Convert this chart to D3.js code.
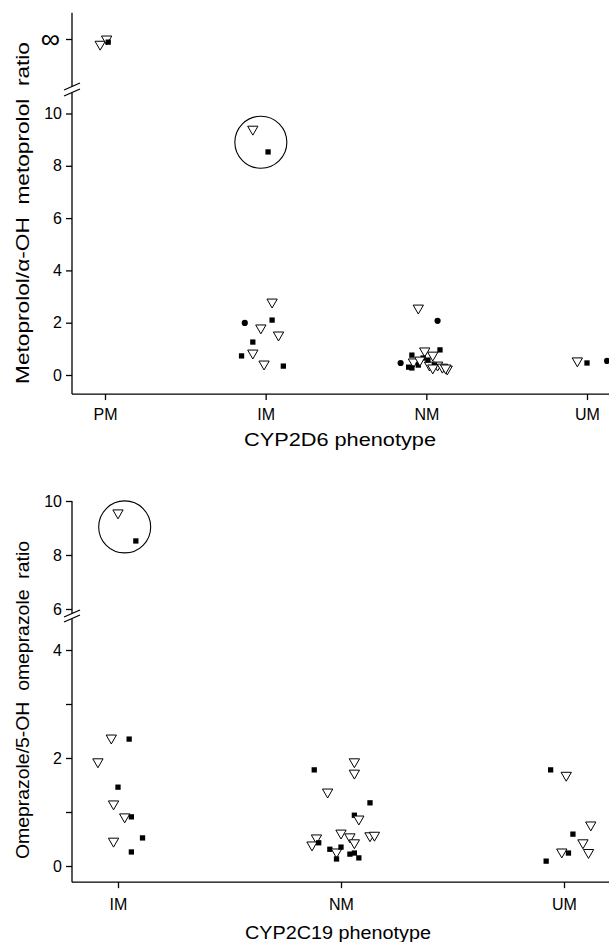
<!DOCTYPE html>
<html>
<head>
<meta charset="utf-8">
<script src="https://cdn.jsdelivr.net/npm/d3@7"></script>
<style>
  body { margin: 0; background: #fff; }
  text { font-family: "Liberation Sans", Arial, sans-serif; fill: #000; }
</style>
</head>
<body>
<svg id="chart" width="609" height="942"></svg>
<script>
// categories
const cyp2d6Phenotypes = ["PM", "IM", "NM", "UM"];
const cyp2c19Phenotypes = ["IM", "NM", "UM"];

// [shift from category, ratio, marker]  (tri = open triangle, sq = square, dot = circle)
// PM ratios are infinite; second value is a small offset below the ∞ tick
const metoPM = [[-0.03, -0.2, "tri"], [0.01, 0, "tri"], [0.02, -0.12, "sq"]];
const metoIM = [
  [-0.08, 9.4, "tri"], [0.015, 8.53, "sq"],
  [0.04, 2.79, "tri"], [-0.13, 1.99, "dot"], [0.04, 2.1, "sq"], [-0.03, 1.8, "tri"],
  [0.08, 1.53, "tri"], [-0.08, 1.26, "sq"], [-0.15, 0.73, "sq"], [-0.08, 0.84, "tri"],
  [-0.01, 0.42, "tri"], [0.11, 0.34, "sq"]
];
const metoNM = [
  [-0.05, 2.56, "tri"], [0.07, 2.07, "dot"], [-0.16, 0.46, "dot"], [-0.01, 0.92, "tri"],
  [0.085, 0.96, "sq"], [-0.09, 0.76, "sq"], [0.04, 0.76, "tri"], [-0.02, 0.65, "sq"],
  [-0.08, 0.5, "tri"], [-0.05, 0.38, "sq"], [0.02, 0.38, "tri"], [-0.11, 0.3, "sq"],
  [0.07, 0.38, "tri"], [0.13, 0.23, "tri"], [0.05, 0.38, "sq"], [0.01, 0.57, "sq"],
  [-0.04, 0.57, "tri"], [0.1, 0.3, "tri"], [0.04, 0.27, "tri"], [-0.09, 0.27, "sq"],
  [0.12, 0.27, "tri"]
];
const metoUM = [[-0.06, 0.54, "tri"], [0, 0.46, "sq"], [0.125, 0.54, "dot"]];

const omeIM = [
  [0, 9.56, "tri"], [0.08, 8.52, "sq"],
  [-0.03, 2.37, "tri"], [0.05, 2.35, "sq"], [-0.09, 1.93, "tri"], [0, 1.46, "sq"],
  [-0.02, 1.15, "tri"], [0.03, 0.91, "tri"], [0.06, 0.91, "sq"], [0.11, 0.52, "sq"],
  [-0.02, 0.46, "tri"], [0.06, 0.26, "sq"]
];
const omeNM = [
  [-0.12, 1.78, "sq"], [0.06, 1.93, "tri"], [0.06, 1.72, "tri"], [-0.06, 1.37, "tri"],
  [0.13, 1.17, "sq"], [0.06, 0.94, "sq"], [0.08, 0.87, "tri"], [0, 0.61, "tri"],
  [0.04, 0.54, "tri"], [0.06, 0.43, "tri"], [0.13, 0.56, "tri"], [0.15, 0.57, "tri"],
  [-0.11, 0.52, "tri"], [-0.13, 0.39, "tri"], [-0.1, 0.43, "sq"], [-0.05, 0.31, "sq"],
  [-0.02, 0.26, "tri"], [0, 0.35, "sq"], [-0.02, 0.13, "sq"], [0.04, 0.22, "sq"],
  [0.06, 0.24, "sq"], [0.08, 0.15, "sq"]
];
const omeUM = [
  [-0.06, 1.78, "sq"], [0.01, 1.68, "tri"], [0.12, 0.76, "tri"], [0.04, 0.59, "sq"],
  [0.085, 0.43, "tri"], [-0.01, 0.26, "tri"], [0.02, 0.24, "sq"], [0.11, 0.25, "tri"],
  [-0.08, 0.09, "sq"]
];

// circled outliers: [category shift, ratio]
const metoOutlier = [0.97, 8.9];
const omeOutlier = [0.03, 9.04];

const svg = d3.select("#chart");

const symbols = {
  tri: d3.symbol().type(d3.symbolTriangle).size(46)(),
  sq: d3.symbol().type(d3.symbolSquare).size(28)(),
  dot: d3.symbol().type(d3.symbolCircle).size(30)()
};

function rows(list, cat) {
  return list.map(d => ({ x: cat + d[0], v: d[1], mark: d[2] }));
}

function drawPoints(data, x, y) {
  svg.append("g").selectAll("path")
    .data(data)
    .join("path")
    .attr("d", d => symbols[d.mark])
    .attr("transform", d => "translate(" + x(d.x) + "," + y(d.v) + ")" + (d.mark == "tri" ? " rotate(180)" : ""))
    .attr("fill", d => d.mark == "tri" ? "#fff" : "#000")
    .attr("stroke", d => d.mark == "tri" ? "#000" : "none")
    .attr("stroke-width", 1);
}

function line(x1, y1, x2, y2) {
  svg.append("line")
    .attr("x1", x1).attr("y1", y1).attr("x2", x2).attr("y2", y2)
    .attr("stroke", "#000").attr("stroke-width", 1.3);
}

function styleAxis(g, size) {
  g.select(".domain").remove();
  g.selectAll(".tick line").attr("stroke", "#000").attr("stroke-width", 1.3);
  g.selectAll(".tick text").attr("font-size", size).attr("fill", "#000")
    .style("font-family", '"Liberation Sans", Arial, sans-serif');
}

function title(x, y, rot, len, txt) {
  svg.append("text")
    .attr("transform", "translate(" + x + "," + y + ")" + (rot ? " rotate(-90)" : ""))
    .attr("text-anchor", "middle")
    .attr("font-size", 18)
    .attr("textLength", len)
    .attr("lengthAdjust", "spacingAndGlyphs")
    .style("white-space", "pre")
    .text(txt);
}

const axisX = 72;
const fmt = d3.format("d");

// ---------- top panel: CYP2D6 / metoprolol ----------
let xTop = d3.scaleLinear().domain([0, 3]).range([105, 587]);
let yTop = d3.scaleLinear().domain([0, 10]).range([375, 113.5]);
let yInf = d3.scaleLinear().domain([-1, 1]).range([39 + 26.15, 39 - 26.15]);
let topBase = yTop(-0.73);

svg.append("g")
  .attr("transform", "translate(" + axisX + ",0)")
  .call(d3.axisLeft(yTop).tickValues([0, 2, 4, 6, 8, 10]).tickFormat(fmt).tickSize(6).tickPadding(4))
  .call(g => styleAxis(g, 16));

svg.append("g")
  .attr("transform", "translate(" + axisX + ",0)")
  .call(d3.axisLeft(yInf).tickValues([0]).tickFormat(() => "∞").tickSize(6).tickPadding(6))
  .call(g => styleAxis(g, 27));

svg.append("g")
  .attr("transform", "translate(0," + topBase + ")")
  .call(d3.axisBottom(xTop).tickValues([0, 1, 2, 3]).tickFormat(i => cyp2d6Phenotypes[i]).tickSize(6).tickPadding(9))
  .call(g => styleAxis(g, 16));

line(axisX, topBase, 609, topBase);
line(axisX, topBase, axisX, 92.5);
line(axisX, 86.5, axisX, yInf(1));
line(64, 90, 80, 83);
line(64, 96, 80, 89);

svg.append("circle")
  .attr("cx", xTop(metoOutlier[0])).attr("cy", yTop(metoOutlier[1])).attr("r", 26)
  .attr("fill", "none").attr("stroke", "#000").attr("stroke-width", 1.1);

drawPoints(metoPM.map(d => ({ x: 0 + d[0], v: d[1], mark: d[2] })), xTop, yInf);
drawPoints(rows(metoIM, 1).concat(rows(metoNM, 2), rows(metoUM, 3)), xTop, yTop);

title(340, 446, false, 192, "CYP2D6 phenotype");
title(29, 213, true, 342, "Metoprolol/α-OH  metoprolol  ratio");

// ---------- bottom panel: CYP2C19 / omeprazole ----------
let xBot = d3.scaleLinear().domain([0, 2]).range([118, 564]);
let yBot = d3.scaleLinear().domain([0, 4]).range([866, 650]);
let yBotUp = d3.scaleLinear().domain([6, 10]).range([609, 501]);
let botBase = yBot(-0.3);

svg.append("g")
  .attr("transform", "translate(" + axisX + ",0)")
  .call(d3.axisLeft(yBot).tickValues([0, 1, 2, 3, 4]).tickFormat(v => v % 2 ? "" : fmt(v)).tickSize(6).tickPadding(4))
  .call(g => styleAxis(g, 16));

svg.append("g")
  .attr("transform", "translate(" + axisX + ",0)")
  .call(d3.axisLeft(yBotUp).tickValues([6, 8, 10]).tickFormat(fmt).tickSize(6).tickPadding(4))
  .call(g => styleAxis(g, 16));

svg.append("g")
  .attr("transform", "translate(0," + botBase + ")")
  .call(d3.axisBottom(xBot).tickValues([0, 1, 2]).tickFormat(i => cyp2c19Phenotypes[i]).tickSize(6).tickPadding(10))
  .call(g => styleAxis(g, 16));

line(axisX, botBase, 609, botBase);
line(axisX, botBase, axisX, 618.7);
line(axisX, 613.7, axisX, yBotUp(10));
line(64, 617, 80, 610);
line(64, 622, 80, 615);

svg.append("circle")
  .attr("cx", xBot(omeOutlier[0])).attr("cy", yBotUp(omeOutlier[1])).attr("r", 26)
  .attr("fill", "none").attr("stroke", "#000").attr("stroke-width", 1.1);

drawPoints(rows(omeIM.slice(0, 2), 0), xBot, yBotUp);
drawPoints(rows(omeIM.slice(2), 0).concat(rows(omeNM, 1), rows(omeUM, 2)), xBot, yBot);

title(338, 939, false, 186, "CYP2C19 phenotype");
title(29, 700, true, 318, "Omeprazole/5-OH  omeprazole  ratio");
</script>
</body>
</html>
